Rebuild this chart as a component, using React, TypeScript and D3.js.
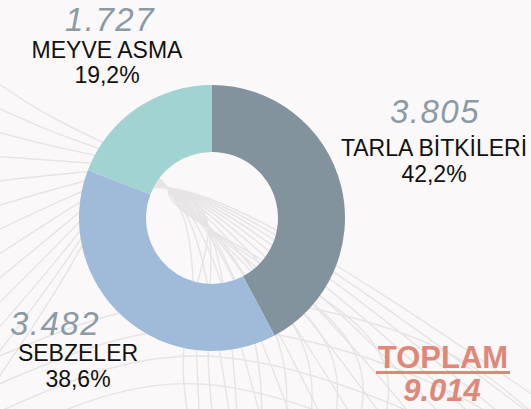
import React from "react";
import * as d3 from "d3";

const categories = ["TARLA BİTKİLERİ", "SEBZELER", "MEYVE ASMA"];
const values = [3805, 3482, 1727];
const valueLabels = ["3.805", "3.482", "1.727"];
const percentLabels = ["42,2%", "38,6%", "19,2%"];
const totalTitle = "TOPLAM";
const totalLabel = "9.014";
const colors = ["#82939e", "#a0bbda", "#a2d3d3"];

const W = 531;
const H = 409;
const CX = 212;
const CY = 218;
const R_OUT = 133;
const R_IN = 66;

const labelLayout = [
  { vx: 435, vy: 123, nx: 434, ny: 156, py: 182 },
  { vx: 55, vy: 335, nx: 78, ny: 361, py: 387 },
  { vx: 110, vy: 31, nx: 107, ny: 58, py: 83 },
];

const FONT = "'Liberation Sans', Arial, Helvetica, sans-serif";

function Background() {
  const F: [number, number] = [168, 188];
  const line = d3.line().curve(d3.curveNatural);
  const fam1: string[] = [];
  for (let i = 0; i < 13; i++) {
    const y0 = 78 + i * 26;
    const mid: [number, number] = [70, y0 + (F[1] - y0) * 0.55 - 12];
    const end: [number, number] = [200 + i * 32, 430];
    const m2: [number, number] = [F[0] + (end[0] - F[0]) * 0.5 + 10, F[1] + (end[1] - F[1]) * 0.45];
    fam1.push(line([[-10, y0], mid, F, m2, end]) as string);
  }
  const fam2: string[] = [];
  for (let j = 0; j < 9; j++) {
    const x0 = 190 + j * 24;
    fam2.push(line([[x0, 430], [x0 - 4 - j * 2, 330], [F[0] + 40, F[1] + 40], F]) as string);
  }
  const fam3: string[] = [];
  for (let k = 0; k < 4; k++) {
    const y = 300 + k * 28;
    fam3.push(line([[-10, y + 60], [200, y], [420, y + 40 + k * 10], [540, y + 120]]) as string);
  }
  return (
    <g fill="none" stroke="#e6e4e5" strokeWidth={1.4}>
      {fam1.map((d, i) => (
        <path key={"a" + i} d={d} />
      ))}
      {fam2.map((d, i) => (
        <path key={"b" + i} d={d} />
      ))}
      {fam3.map((d, i) => (
        <path key={"c" + i} d={d} />
      ))}
    </g>
  );
}

export default function App() {
  const pie = d3
    .pie<number>()
    .sort(null)
    .value((d) => d);
  const arcs = pie(values);
  const arcGen = d3.arc<d3.PieArcDatum<number>>().innerRadius(R_IN).outerRadius(R_OUT);

  return (
    <svg
      width={W}
      height={H}
      viewBox={`0 0 ${W} ${H}`}
      style={{ position: "absolute", left: 0, top: 0, background: "#faf8f9" }}
    >
      <rect x={0} y={0} width={W} height={H} fill="#faf8f9" />
      <Background />
      <g transform={`translate(${CX},${CY})`}>
        {arcs.map((a, i) => (
          <path key={i} d={arcGen(a) as string} fill={colors[i]} />
        ))}
      </g>
      {categories.map((c, i) => {
        const L = labelLayout[i];
        return (
          <g key={c} fontFamily={FONT} textAnchor="middle">
            <text x={L.vx} y={L.vy} fontSize={33} fontStyle="italic" letterSpacing={1.5} fill="#8a9ba5">
              {valueLabels[i]}
            </text>
            <text x={L.nx} y={L.ny} fontSize={23} fill="#111">
              {c}
            </text>
            <text x={L.nx} y={L.py} fontSize={23} fill="#111">
              {percentLabels[i]}
            </text>
          </g>
        );
      })}
      <g fontFamily={FONT} textAnchor="middle" fill="#df8878" fontWeight="bold">
        <text x={443} y={368} fontSize={31}>
          {totalTitle}
        </text>
        <rect x={376} y={371} width={134} height={3} fill="#df8878" />
        <text x={442} y={401} fontSize={31} fontStyle="italic">
          {totalLabel}
        </text>
      </g>
    </svg>
  );
}
